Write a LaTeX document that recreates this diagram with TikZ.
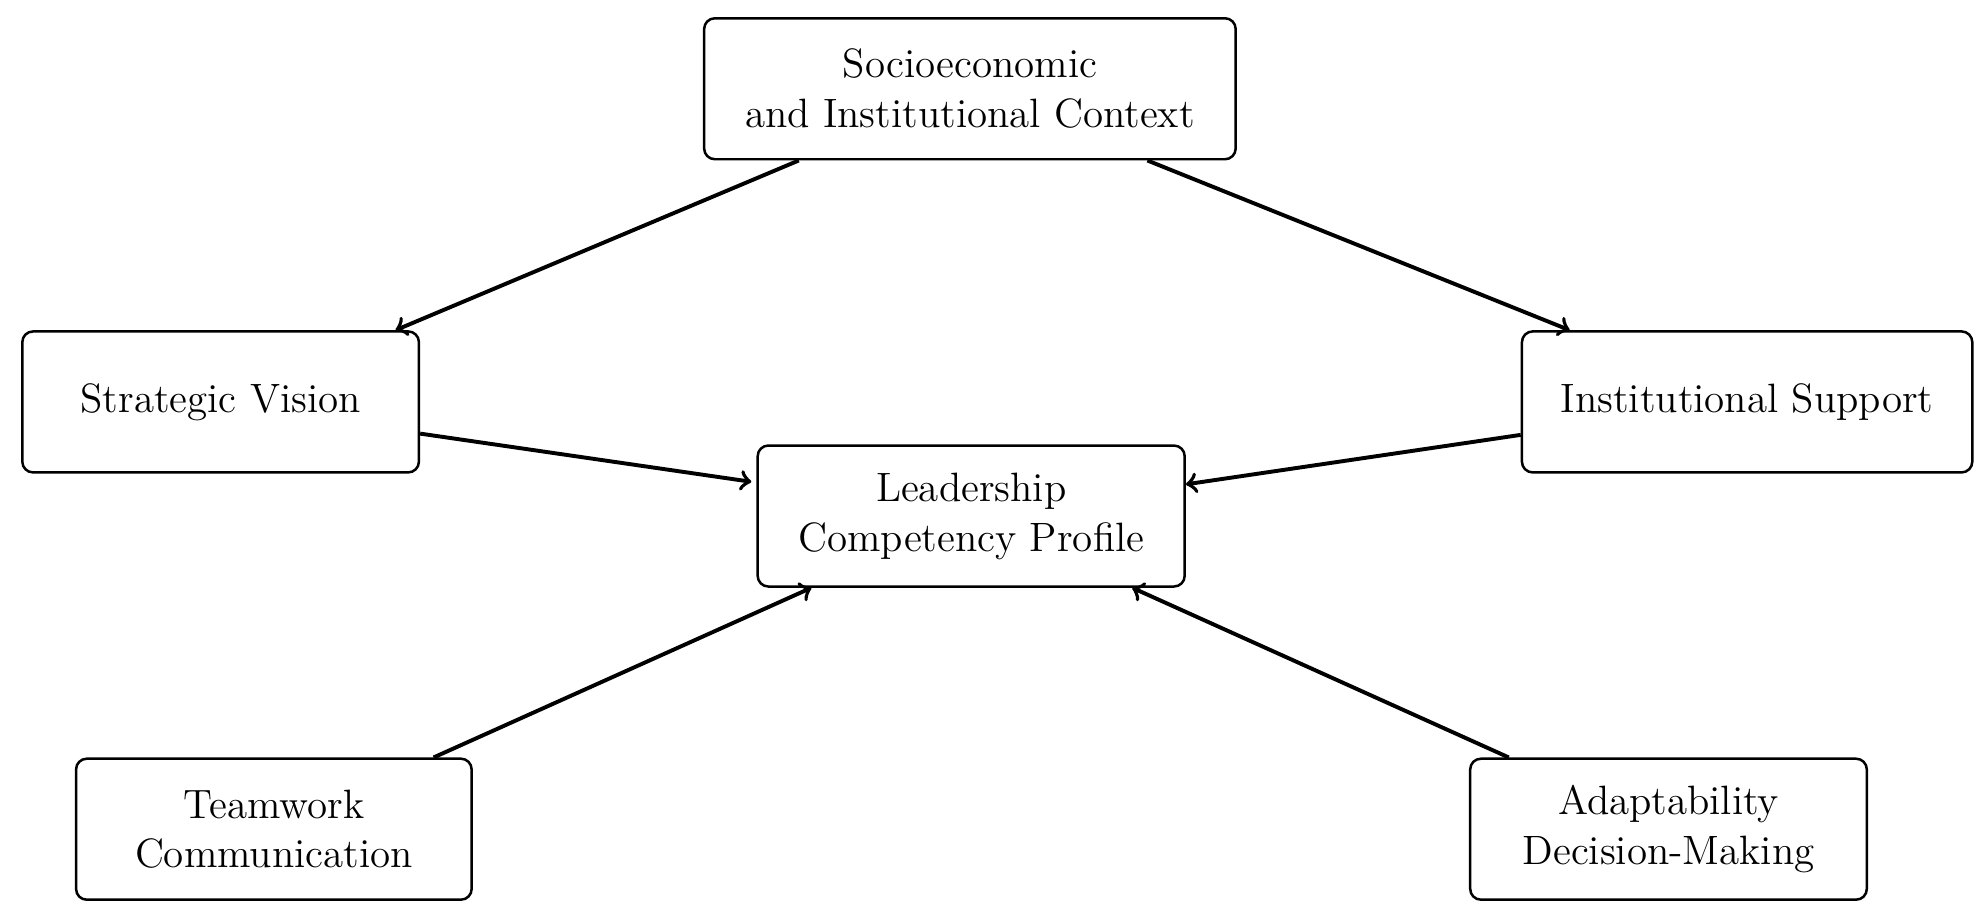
\documentclass[tikz,border=0pt]{standalone}
\usepackage{mathpazo}
\begin{document}
\begin{tikzpicture}[
  box/.style={draw, line width=0.7pt, rounded corners=3pt, align=center, font=\fontsize{11.5}{14}\selectfont, minimum height=1.39cm, inner sep=2pt},
  arr/.style={->, line width=1.1pt}]
\useasboundingbox (0,0) rectangle (19.6,-9.09);
\node[box, minimum width=5.24cm] (top) at (9.5625,-0.875) {Socioeconomic\\and Institutional Context};
\node[box, minimum width=3.91cm] (sv) at (2.175,-3.9625) {Strategic Vision};
\node[box, minimum width=4.44cm] (is) at (17.225,-3.9625) {Institutional Support};
\node[box, minimum width=4.21cm] (lc) at (9.575,-5.0875) {Leadership\\Competency Profile};
\node[box, minimum width=3.9cm] (tw) at (2.7,-8.175) {Teamwork\\Communication};
\node[box, minimum width=3.91cm] (ad) at (16.45,-8.175) {Adaptability\\Decision-Making};
\draw[arr] ([xshift=-1.6875cm]top.south) -- ([xshift=1.725cm]sv.north);
\draw[arr] ([xshift=1.75cm]top.south) -- ([xshift=-1.75cm]is.north);
\draw[arr] ([yshift=-0.3125cm]sv.east) -- ([yshift=0.3375cm,xshift=-0.05cm]lc.west);
\draw[arr] ([yshift=-0.325cm]is.west) -- ([yshift=0.3125cm]lc.east);
\draw[arr] ([xshift=1.575cm]tw.north) -- ([xshift=-1.575cm]lc.south);
\draw[arr] ([xshift=-1.575cm]ad.north) -- ([xshift=1.5875cm]lc.south);
\end{tikzpicture}
\end{document}
